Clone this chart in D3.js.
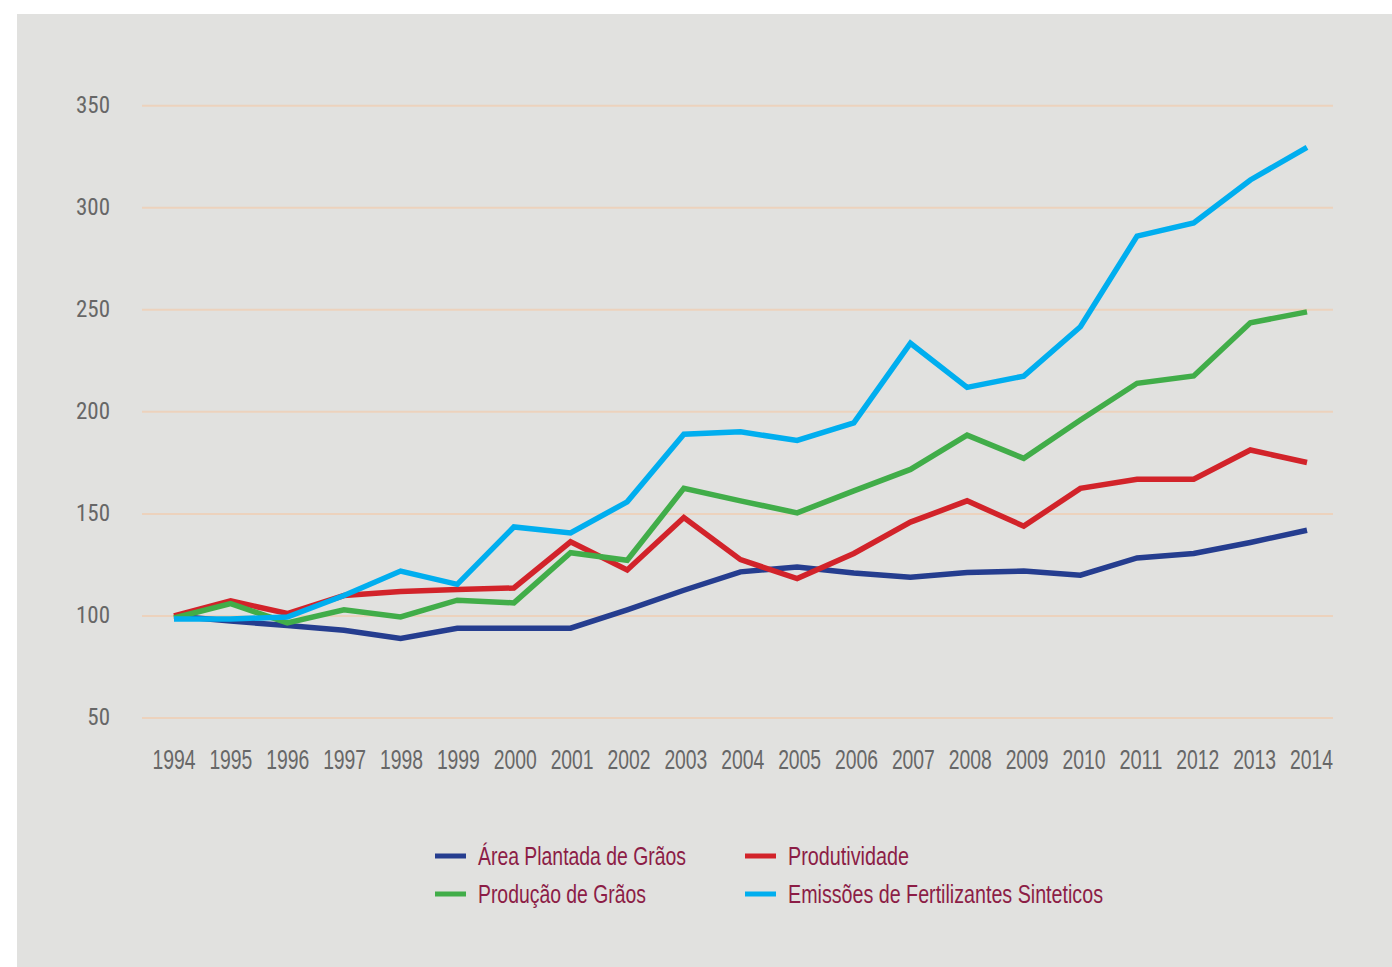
<!DOCTYPE html>
<html><head><meta charset="utf-8">
<script src="https://cdn.jsdelivr.net/npm/d3@7/dist/d3.min.js"></script>
<style>
html,body{margin:0;padding:0;background:#fff;}
svg{display:block;}
</style></head>
<body>
<svg id="chart" width="1392" height="967"></svg>
<script>
const years = [1994,1995,1996,1997,1998,1999,2000,2001,2002,2003,2004,2005,2006,2007,2008,2009,2010,2011,2012,2013,2014];
const areaPlantada = [100,97.5,95.3,93,89,94,94,94,103,112.6,121.6,124,121,119,121.3,122,120,128.4,130.6,136,142];
const produtividade = [100,107.4,101.2,110,112,113,113.7,136.3,122.5,148.2,127.6,118.3,130.6,146,156.4,144,162.5,167,167,181.3,175.2];
const producao = [99,106,96.6,103,99.5,107.7,106.4,131,127.3,162.5,156.4,150.5,161.3,171.8,188.6,177.2,196,214,217.6,243.6,249];
const emissoes = [98.5,98.5,99.5,110,122,115.5,143.6,140.7,155.9,189,190.2,186,194.6,233.6,212,217.5,241.7,286.1,292.6,313.6,329.6];
const yTicks = [50,100,150,200,250,300,350];
const seriesNames = ["Área Plantada de Grãos","Produtividade","Produção de Grãos","Emissões de Fertilizantes Sinteticos"];
const seriesColors = ["#253d8f","#d2232a","#41ad49","#00aeef"];
const legendTextWidths = [208,121,168,315];

const series = seriesNames.map((n,i)=>({name:n, color:seriesColors[i], tw:legendTextWidths[i],
  values:[areaPlantada,produtividade,producao,emissoes][i]}));

const svg = d3.select("#chart");
svg.append("rect").attr("x",17).attr("y",14).attr("width",1392-17).attr("height",967-14).attr("fill","#e1e1df");

const x = d3.scaleLinear().domain([1994,2014]).range([174,1307]);
const xLab = d3.scaleLinear().domain([1994,2014]).range([173.5,1311]);
const y = d3.scaleLinear().domain([50,350]).range([718,105.7]);

// gridlines
svg.append("g").selectAll("line").data(yTicks).join("line")
  .attr("x1",142).attr("x2",1333)
  .attr("y1",d=>y(d)).attr("y2",d=>y(d))
  .attr("stroke","#ecd2bd").attr("stroke-width",2);

// y axis labels
const yAxis = d3.axisLeft(y).tickValues(yTicks).tickSize(0).tickPadding(0);
const gy = svg.append("g").attr("transform","translate(110,-1)").call(yAxis);
gy.select(".domain").remove();
gy.selectAll("text").attr("fill","#676767")
  .style("font-family","'Liberation Sans Narrow','Roboto Condensed','Liberation Sans',sans-serif")
  .style("font-size","23px");

// x axis labels
const xAxis = d3.axisBottom(xLab).tickValues(years).tickFormat(d3.format("d")).tickSize(0).tickPadding(0);
const gx = svg.append("g").attr("transform","translate(0,749)").call(xAxis);
gx.select(".domain").remove();
gx.selectAll("text").attr("fill","#676767").attr("dy","0.71em")
  .attr("textLength",43).attr("lengthAdjust","spacingAndGlyphs")
  .style("font-family","'Liberation Sans Narrow','Liberation Sans',sans-serif")
  .style("font-size","28px");

// lines
const line = d3.line().x((d,i)=>x(years[i])).y(d=>y(d));
svg.append("g").selectAll("path").data(series).join("path")
  .attr("d",d=>line(d.values))
  .attr("fill","none").attr("stroke",d=>d.color)
  .attr("stroke-width",5.5).attr("stroke-linejoin","miter").attr("stroke-miterlimit",3);

// legend
const legendPos = [
  {lx:435, ty:856},
  {lx:745, ty:856},
  {lx:435, ty:894},
  {lx:745, ty:894}
];
const lg = svg.append("g").selectAll("g").data(series).join("g")
  .attr("transform",(d,i)=>`translate(${legendPos[i].lx},${legendPos[i].ty})`);
lg.append("line").attr("x1",0).attr("x2",31).attr("y1",0).attr("y2",0)
  .attr("stroke",d=>d.color).attr("stroke-width",5);
lg.append("text").attr("x",43).attr("y",0).attr("dy","0.36em")
  .attr("fill","#8c1d46")
  .attr("textLength",d=>d.tw).attr("lengthAdjust","spacingAndGlyphs")
  .style("font-family","'Liberation Sans Narrow','Liberation Sans',sans-serif")
  .style("font-size","25px")
  .text(d=>d.name);
</script>
</body></html>
